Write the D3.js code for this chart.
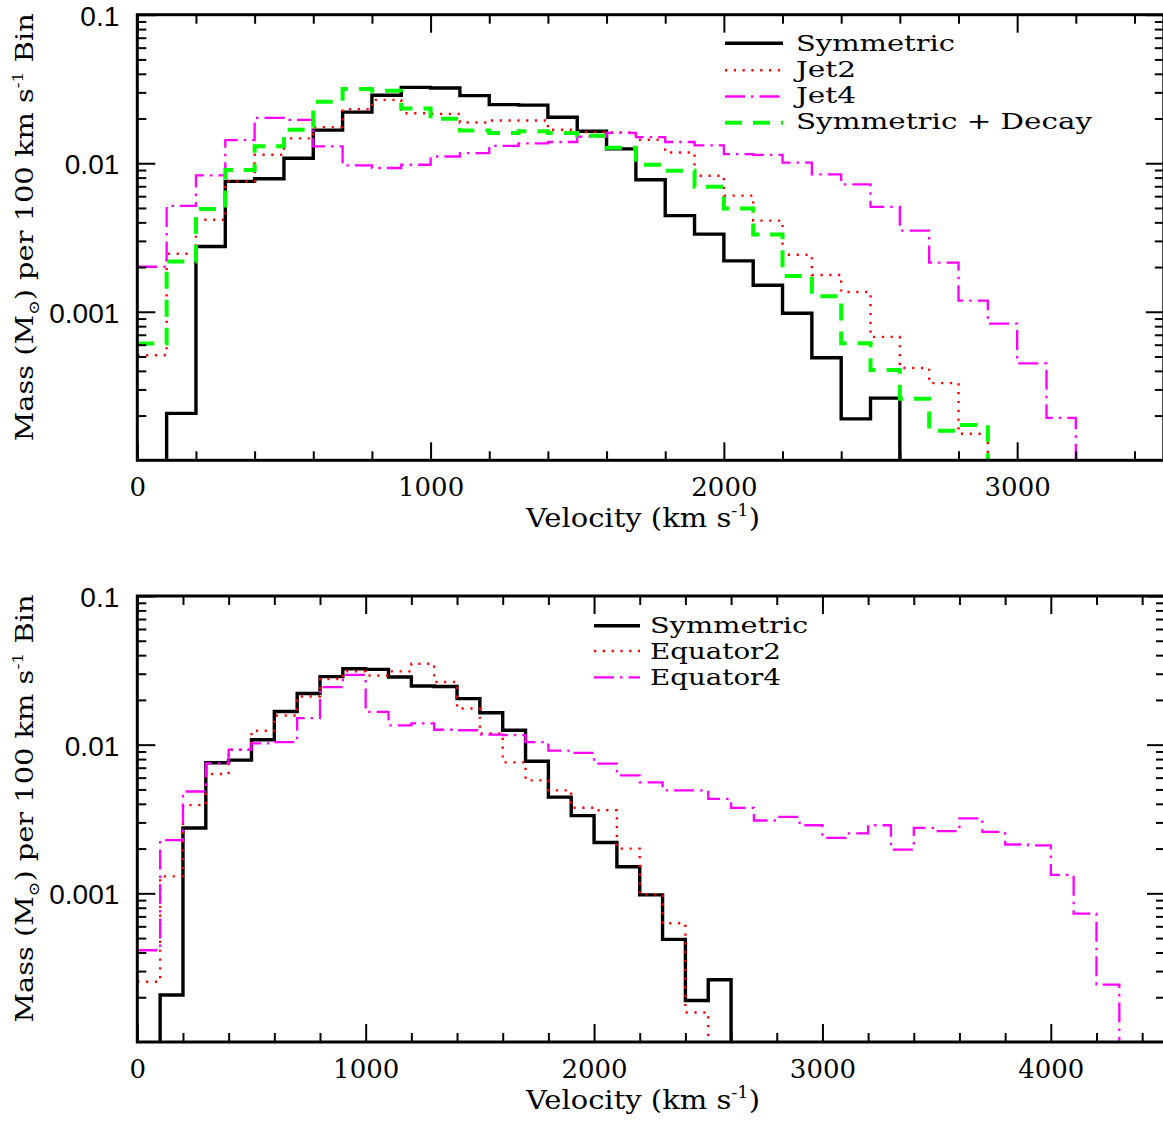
<!DOCTYPE html>
<html>
<head>
<meta charset="utf-8">
<script src="https://cdn.jsdelivr.net/npm/d3@7"></script>
<style>
  html, body { margin: 0; padding: 0; background: #fff; }
  svg { display: block; }
</style>
</head>
<body>
<svg id="chart" width="1163" height="1123"></svg>
<script>
// ---------------- DATA (mass per 100 km/s bin, bins start at binStart) ----------------
const binWidth = 100;

// Top panel
const symmetricStart = 100;
const symmetric = [2.07e-4, 2.75e-3, 7.55e-3, 7.87e-3, 0.0108, 0.0167, 0.0221, 0.0287, 0.0324, 0.0321,
  0.0285, 0.0248, 0.0246, 0.0204, 0.0164, 0.0125, 0.00774, 0.00444, 0.00333, 0.00220,
  0.00151, 9.77e-4, 4.9e-4, 1.9e-4, 2.62e-4];

const jet2Start = 0;
const jet2 = [5.1e-4, 2.46e-3, 4.16e-3, 7.55e-3, 0.0114, 0.0147, 0.0175, 0.0231, 0.0267, 0.0217,
  0.0215, 0.0188, 0.0194, 0.0194, 0.0168, 0.0162, 0.0161, 0.0144, 0.0118, 0.00824,
  0.00605, 0.00411, 0.00242, 0.00177, 0.00136, 6.78e-4, 4.18e-4, 3.31e-4, 1.51e-4];

const jet4Start = 0;
const jet4 = [2.01e-3, 5.16e-3, 8.28e-3, 0.0143, 0.0202, 0.0196, 0.0130, 9.66e-3, 9.29e-3, 9.77e-3,
  0.0111, 0.0117, 0.0131, 0.0136, 0.0139, 0.0151, 0.0160, 0.0150, 0.0139, 0.0132,
  0.0115, 0.0114, 0.0101, 8.41e-3, 7.21e-3, 5.08e-3, 3.52e-3, 2.14e-3, 1.19e-3, 8.33e-4,
  4.49e-4, 1.93e-4];

const symDecayStart = 0;
const symDecay = [6.12e-4, 2.18e-3, 4.92e-3, 9.0e-3, 0.0130, 0.0168, 0.0259, 0.0316, 0.0308, 0.0234,
  0.0199, 0.0166, 0.0160, 0.0164, 0.0160, 0.0153, 0.0127, 9.77e-3, 8.9e-3, 6.95e-3,
  4.95e-3, 3.31e-3, 1.74e-3, 1.27e-3, 6.15e-4, 4.05e-4, 2.60e-4, 1.58e-4, 1.73e-4];

// Bottom panel
const equator2Start = 0;
const equator2 = [2.54e-4, 1.30e-3, 3.92e-3, 6.35e-3, 9.25e-3, 0.0124, 0.0157, 0.0211, 0.0276, 0.0311,
  0.0292, 0.0311, 0.0350, 0.0264, 0.0175, 0.0119, 7.6e-3, 5.75e-3, 4.93e-3, 3.76e-3,
  3.62e-3, 2.0e-3, 9.84e-4, 6.29e-4, 1.58e-4];

const equator4Start = 0;
const equator4 = [4.14e-4, 2.28e-3, 4.84e-3, 7.49e-3, 9.25e-3, 0.0102, 0.0104, 0.0151, 0.0244, 0.0295,
  0.0166, 0.0135, 0.0139, 0.0126, 0.0125, 0.0117, 0.0116, 0.0104, 9.12e-3, 8.8e-3,
  7.45e-3, 6.22e-3, 5.58e-3, 4.93e-3, 4.93e-3, 4.32e-3, 3.76e-3, 3.09e-3, 3.27e-3, 2.87e-3,
  2.36e-3, 2.53e-3, 2.87e-3, 1.97e-3, 2.76e-3, 2.62e-3, 3.19e-3, 2.59e-3, 2.13e-3, 2.10e-3,
  1.33e-3, 7.31e-4, 2.43e-4];

// Axis tick labels
const yTickLabels = ["0.1", "0.01", "0.001"];
const yMajorTicks = [0.1, 0.01, 0.001];
const topXTickLabels = ["0", "1000", "2000", "3000"];
const bottomXTickLabels = ["0", "1000", "2000", "3000", "4000"];
const topLegendLabels = ["Symmetric", "Jet2", "Jet4", "Symmetric + Decay"];
const bottomLegendLabels = ["Symmetric", "Equator2", "Equator4"];

// ---------------- STYLES ----------------
const styles = {
  solid:   { stroke: "#000000", width: 3.4, dash: null },
  dotted:  { stroke: "#ff0000", width: 2.4, dash: "2.2,6.6" },
  dashdot: { stroke: "#ff00ff", width: 2.3, dash: "20,6,2.5,6" },
  dashed:  { stroke: "#00ff00", width: 4,   dash: "17,11" }
};

const svg = d3.select("#chart");
const SERIF = "'DejaVu Serif', serif";
const SANS = "'Liberation Sans', Arial, sans-serif";

const panels = [
  {
    xMax: 3500, left: 137.3, right: 1163.8, top: 14.7, bottom: 460.3,
    xLabels: topXTickLabels,
    series: [
      { start: symmetricStart, vals: symmetric, style: styles.solid },
      { start: jet2Start, vals: jet2, style: styles.dotted },
      { start: jet4Start, vals: jet4, style: styles.dashdot },
      { start: symDecayStart, vals: symDecay, style: styles.dashed }
    ],
    legend: { labels: topLegendLabels, styles: [styles.solid, styles.dotted, styles.dashdot, styles.dashed],
      x1: 725, x2: 783, tx: 796, lineY: [43.3, 70.3, 96.5, 122.7], baseY: [51.2, 77, 103, 129],
      widths: [159, 60, 60, 296] }
  },
  {
    xMax: 4500, left: 137.3, right: 1165, top: 596, bottom: 1042,
    xLabels: bottomXTickLabels,
    series: [
      { start: symmetricStart, vals: symmetric, style: styles.solid },
      { start: equator2Start, vals: equator2, style: styles.dotted },
      { start: equator4Start, vals: equator4, style: styles.dashdot }
    ],
    legend: { labels: bottomLegendLabels, styles: [styles.solid, styles.dotted, styles.dashdot],
      x1: 594, x2: 640, tx: 650, lineY: [625.7, 651, 677.3], baseY: [632.8, 658.7, 684.7],
      widths: [158, 131, 131] }
  }
];

const yMin = 1e-4, yMax = 0.1;

panels.forEach((p, pi) => {
  const x = d3.scaleLinear().domain([0, p.xMax]).range([p.left, p.right]);
  const y = d3.scaleLog().domain([yMin, yMax]).range([p.bottom, p.top]);
  const g = svg.append("g");

  const clipId = "clip" + pi;
  svg.append("clipPath").attr("id", clipId).append("rect")
    .attr("x", p.left).attr("y", p.top).attr("width", p.right - p.left).attr("height", p.bottom - p.top);

  // series
  const line = d3.line().x(d => x(d[0])).y(d => y(d[1]));
  const plotG = g.append("g").attr("clip-path", `url(#${clipId})`);
  p.series.forEach(s => {
    const pts = [];
    if (s.start > 0) pts.push([s.start, yMin]);
    s.vals.forEach((m, i) => {
      pts.push([s.start + i * binWidth, m]);
      pts.push([s.start + (i + 1) * binWidth, m]);
    });
    pts.push([s.start + s.vals.length * binWidth, yMin]);
    plotG.append("path").attr("d", line(pts))
      .attr("fill", "none")
      .attr("stroke", s.style.stroke)
      .attr("stroke-width", s.style.width)
      .attr("stroke-dasharray", s.style.dash)
      .attr("stroke-linejoin", "miter");
  });

  // ticks
  const xMajor = d3.range(0, p.xMax + 1, 1000);
  const xMinor = d3.range(200, p.xMax, 200).filter(v => v % 1000 !== 0);
  const yMinor = [];
  [1e-4, 1e-3, 1e-2].forEach(d => { for (let k = 2; k <= 9; k++) yMinor.push(d * k); });

  const tickStyle = sel => sel.selectAll("line").attr("stroke", "#000").attr("stroke-width", 2);
  const noDomain = sel => sel.select(".domain").remove();

  // bottom major with labels
  const bx = g.append("g").attr("transform", `translate(0,${p.bottom})`)
    .call(d3.axisBottom(x).tickValues(xMajor).tickSize(-18).tickPadding(0)
      .tickFormat((d, i) => p.xLabels[i]));
  bx.call(noDomain).call(tickStyle);
  bx.selectAll("text").attr("font-family", SERIF).attr("font-size", 26).attr("fill", "#000")
    .attr("y", 36).attr("dy", null);
  g.append("g").attr("transform", `translate(0,${p.bottom})`)
    .call(d3.axisBottom(x).tickValues(xMinor).tickSize(-9).tickFormat(""))
    .call(noDomain).call(tickStyle);
  // top
  g.append("g").attr("transform", `translate(0,${p.top})`)
    .call(d3.axisTop(x).tickValues(xMajor).tickSize(-18).tickFormat(""))
    .call(noDomain).call(tickStyle);
  g.append("g").attr("transform", `translate(0,${p.top})`)
    .call(d3.axisTop(x).tickValues(xMinor).tickSize(-9).tickFormat(""))
    .call(noDomain).call(tickStyle);
  // left
  const ly = g.append("g").attr("transform", `translate(${p.left},0)`)
    .call(d3.axisLeft(y).tickValues(yMajorTicks).tickSize(-18).tickPadding(0)
      .tickFormat((d, i) => yTickLabels[i]));
  ly.call(noDomain).call(tickStyle);
  ly.selectAll("text").attr("font-family", SANS).attr("font-size", 28).attr("fill", "#000")
    .attr("x", -18).attr("dy", "0.37em");
  g.append("g").attr("transform", `translate(${p.left},0)`)
    .call(d3.axisLeft(y).tickValues(yMinor).tickSize(-9).tickFormat(""))
    .call(noDomain).call(tickStyle);
  // right
  g.append("g").attr("transform", `translate(${p.right},0)`)
    .call(d3.axisRight(y).tickValues(yMajorTicks).tickSize(-18).tickFormat(""))
    .call(noDomain).call(tickStyle);
  g.append("g").attr("transform", `translate(${p.right},0)`)
    .call(d3.axisRight(y).tickValues(yMinor).tickSize(-9).tickFormat(""))
    .call(noDomain).call(tickStyle);

  // frame
  g.append("rect").attr("x", p.left).attr("y", p.top)
    .attr("width", p.right - p.left).attr("height", p.bottom - p.top)
    .attr("fill", "none").attr("stroke", "#000").attr("stroke-width", 3);

  // x title
  const xt = g.append("text").attr("x", 526).attr("y", p.bottom + 67)
    .attr("font-family", SERIF).attr("font-size", 26).attr("fill", "#000")
    .attr("textLength", 234).attr("lengthAdjust", "spacingAndGlyphs");
  xt.append("tspan").text("Velocity (km s");
  xt.append("tspan").attr("font-size", 16).attr("dy", -11).text("-1");
  xt.append("tspan").attr("dy", 11).text(")");

  // y title
  const yt = g.append("text")
    .attr("transform", `translate(33,${p.top + 212.5}) rotate(-90)`)
    .attr("text-anchor", "middle")
    .attr("font-family", SERIF).attr("font-size", 25).attr("fill", "#000")
    .attr("textLength", 428).attr("lengthAdjust", "spacingAndGlyphs");
  yt.append("tspan").text("Mass (M");
  yt.append("tspan").attr("font-size", 15).attr("dy", 6).text("\u2299");
  yt.append("tspan").attr("dy", -6).text(") per 100 km s");
  yt.append("tspan").attr("font-size", 15).attr("dy", -10).text("-1");
  yt.append("tspan").attr("dy", 10).text(" Bin");

  // legend
  const L = p.legend;
  L.labels.forEach((lab, i) => {
    const st = L.styles[i];
    g.append("line").attr("x1", L.x1).attr("x2", L.x2).attr("y1", L.lineY[i]).attr("y2", L.lineY[i])
      .attr("stroke", st.stroke).attr("stroke-width", st.width).attr("stroke-dasharray", st.dash);
    g.append("text").attr("x", L.tx).attr("y", L.baseY[i])
      .attr("font-family", SERIF).attr("font-size", 23).attr("fill", "#000")
      .attr("textLength", L.widths[i]).attr("lengthAdjust", "spacingAndGlyphs")
      .text(lab);
  });
});
</script>
</body>
</html>
